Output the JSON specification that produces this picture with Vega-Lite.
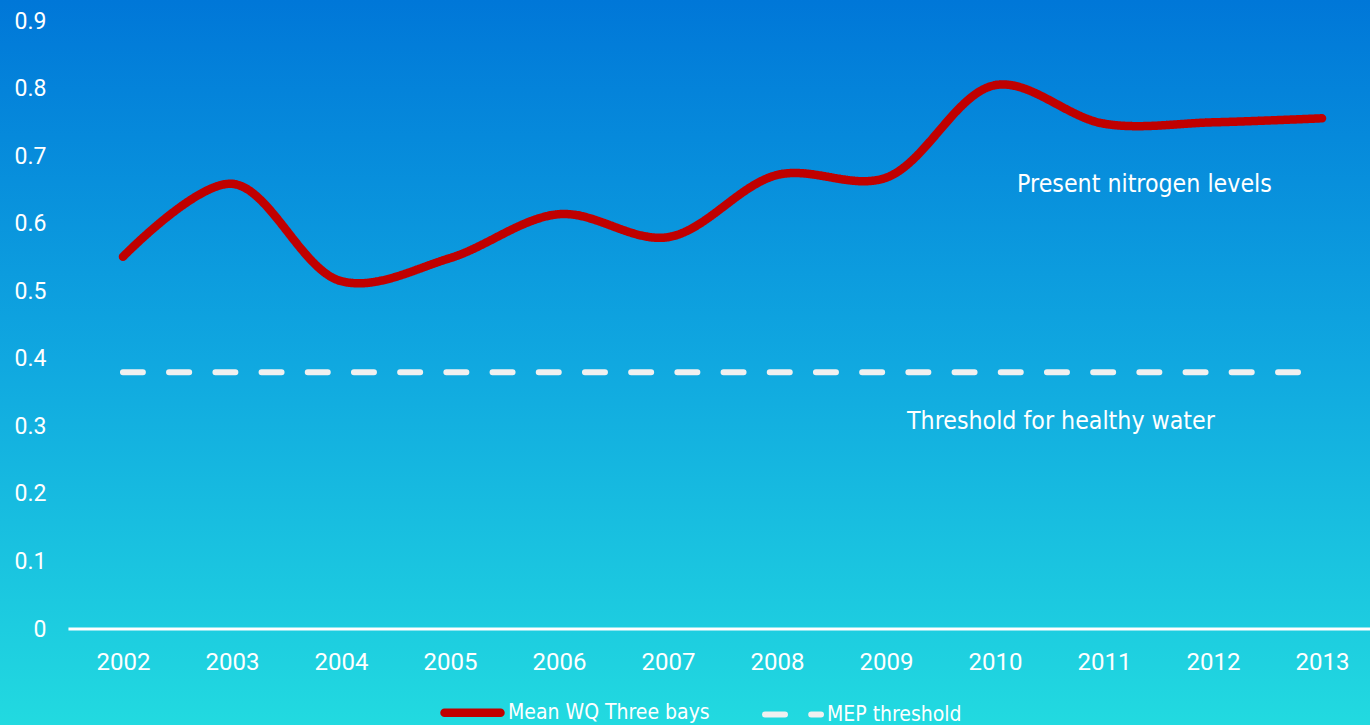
{
  "$schema": "https://vega.github.io/schema/vega-lite/v6.json",
  "width": 1370,
  "height": 725,
  "padding": 0,
  "autosize": {"type": "none"},
  "background": "#22dae0",
  "config": {"view": {"stroke": null}, "font": "Roboto"},
  "layer": [
    {
      "data": {"values": [{"bg": "bg"}]},
      "mark": {
        "type": "rect",
        "color": {
          "gradient": "linear",
          "x1": 0, "y1": 0, "x2": 0, "y2": 1,
          "stops": [
            {"offset": 0, "color": "#0077d8"},
            {"offset": 0.5, "color": "#10a8e0"},
            {"offset": 1, "color": "#22dae0"}
          ]
        }
      }
    },
    {
      "data": {"values": [{"year": 2001.5, "year2": 2013.5, "value": 0}]},
      "mark": {"type": "rule", "color": "#ffffff", "strokeWidth": 3},
      "encoding": {
        "x": {
          "field": "year", "type": "quantitative",
          "scale": {"domain": [2000.872, 2013.44], "nice": false, "zero": false},
          "axis": {
            "orient": "bottom", "offset": -96, "title": null, "zindex": 2,
            "values": [2002, 2003, 2004, 2005, 2006, 2007, 2008, 2009, 2010, 2011, 2012, 2013],
            "format": "d", "domain": false, "ticks": false, "grid": false,
            "labelFont": "Roboto", "labelFontSize": 24, "labelColor": "#ffffff",
            "labelPadding": 21, "labelOverlap": false, "labelFlush": false
          }
        },
        "x2": {"field": "year2"},
        "y": {
          "field": "value", "type": "quantitative",
          "scale": {"domain": [-0.1421, 0.9311], "nice": false, "zero": false},
          "axis": {
            "orient": "left", "offset": -46, "title": null, "zindex": 2,
            "values": [0, 0.1, 0.2, 0.3, 0.4, 0.5, 0.6, 0.7, 0.8, 0.9],
            "format": "~g", "domain": false, "ticks": false, "grid": false,
            "labelFont": "Roboto", "labelFontSize": 23, "labelColor": "#ffffff",
            "labelPadding": 0, "labelOverlap": false, "labelFlush": false
          }
        }
      }
    },
    {
      "data": {"values": [
        {"series": "Mean WQ Three bays", "year": 2002, "value": 0.551},
        {"series": "Mean WQ Three bays", "year": 2003, "value": 0.659},
        {"series": "Mean WQ Three bays", "year": 2004, "value": 0.515},
        {"series": "Mean WQ Three bays", "year": 2005, "value": 0.549},
        {"series": "Mean WQ Three bays", "year": 2006, "value": 0.614},
        {"series": "Mean WQ Three bays", "year": 2007, "value": 0.580},
        {"series": "Mean WQ Three bays", "year": 2008, "value": 0.672},
        {"series": "Mean WQ Three bays", "year": 2009, "value": 0.668},
        {"series": "Mean WQ Three bays", "year": 2010, "value": 0.805},
        {"series": "Mean WQ Three bays", "year": 2011, "value": 0.748},
        {"series": "Mean WQ Three bays", "year": 2012, "value": 0.750},
        {"series": "Mean WQ Three bays", "year": 2013, "value": 0.756},
        {"series": "MEP threshold", "year": 2002, "value": 0.38},
        {"series": "MEP threshold", "year": 2003, "value": 0.38},
        {"series": "MEP threshold", "year": 2004, "value": 0.38},
        {"series": "MEP threshold", "year": 2005, "value": 0.38},
        {"series": "MEP threshold", "year": 2006, "value": 0.38},
        {"series": "MEP threshold", "year": 2007, "value": 0.38},
        {"series": "MEP threshold", "year": 2008, "value": 0.38},
        {"series": "MEP threshold", "year": 2009, "value": 0.38},
        {"series": "MEP threshold", "year": 2010, "value": 0.38},
        {"series": "MEP threshold", "year": 2011, "value": 0.38},
        {"series": "MEP threshold", "year": 2012, "value": 0.38},
        {"series": "MEP threshold", "year": 2013, "value": 0.38}
      ]},
      "mark": {"type": "line", "interpolate": "catmull-rom", "strokeCap": "round", "strokeJoin": "round"},
      "encoding": {
        "x": {
          "field": "year", "type": "quantitative",
          "scale": {"domain": [2000.872, 2013.44], "nice": false, "zero": false},
          "axis": {
            "orient": "bottom", "offset": -96, "title": null, "zindex": 2,
            "values": [2002, 2003, 2004, 2005, 2006, 2007, 2008, 2009, 2010, 2011, 2012, 2013],
            "format": "d", "domain": false, "ticks": false, "grid": false,
            "labelFont": "Roboto", "labelFontSize": 24, "labelColor": "#ffffff",
            "labelPadding": 21, "labelOverlap": false, "labelFlush": false
          }
        },
        "y": {
          "field": "value", "type": "quantitative",
          "scale": {"domain": [-0.1421, 0.9311], "nice": false, "zero": false},
          "axis": {
            "orient": "left", "offset": -46, "title": null, "zindex": 2,
            "values": [0, 0.1, 0.2, 0.3, 0.4, 0.5, 0.6, 0.7, 0.8, 0.9],
            "format": "~g", "domain": false, "ticks": false, "grid": false,
            "labelFont": "Roboto", "labelFontSize": 23, "labelColor": "#ffffff",
            "labelPadding": 0, "labelOverlap": false, "labelFlush": false
          }
        },
        "color": {
          "field": "series", "type": "ordinal",
          "scale": {"domain": ["Mean WQ Three bays", "MEP threshold"], "range": ["#c00000", "#f0f0f0"]},
          "legend": {
            "orient": "none", "legendX": 440, "legendY": 680, "direction": "horizontal",
            "title": null, "symbolType": "stroke", "symbolSize": 3136,
            "labelFont": "DejaVu Sans Condensed, Liberation Sans Narrow, Roboto Condensed, Roboto", "labelFontSize": 21, "labelColor": "#ffffff",
            "labelOffset": 3, "labelLimit": 400, "columnPadding": 43, "padding": 0,
            "encode": {"symbols": {"update": {"strokeCap": {"value": "round"}}}}
          }
        },
        "strokeDash": {
          "field": "series", "type": "ordinal",
          "scale": {"domain": ["Mean WQ Three bays", "MEP threshold"], "range": [[1, 0], [20, 26.2]]}
        },
        "strokeWidth": {
          "field": "series", "type": "ordinal",
          "scale": {"domain": ["Mean WQ Three bays", "MEP threshold"], "range": [8.5, 6]}
        }
      }
    },
    {
      "data": {"values": [
        {"year": 2011.371, "value": 0.647, "label": "Present nitrogen levels"},
        {"year": 2010.605, "value": 0.296, "label": "Threshold for healthy water"}
      ]},
      "mark": {"type": "text", "font": "DejaVu Sans Condensed, Liberation Sans Narrow, Roboto Condensed, Roboto", "fontSize": 24.7, "color": "#ffffff", "align": "center", "baseline": "alphabetic"},
      "encoding": {
        "x": {
          "field": "year", "type": "quantitative",
          "scale": {"domain": [2000.872, 2013.44], "nice": false, "zero": false},
          "axis": {
            "orient": "bottom", "offset": -96, "title": null, "zindex": 2,
            "values": [2002, 2003, 2004, 2005, 2006, 2007, 2008, 2009, 2010, 2011, 2012, 2013],
            "format": "d", "domain": false, "ticks": false, "grid": false,
            "labelFont": "Roboto", "labelFontSize": 24, "labelColor": "#ffffff",
            "labelPadding": 21, "labelOverlap": false, "labelFlush": false
          }
        },
        "y": {
          "field": "value", "type": "quantitative",
          "scale": {"domain": [-0.1421, 0.9311], "nice": false, "zero": false},
          "axis": {
            "orient": "left", "offset": -46, "title": null, "zindex": 2,
            "values": [0, 0.1, 0.2, 0.3, 0.4, 0.5, 0.6, 0.7, 0.8, 0.9],
            "format": "~g", "domain": false, "ticks": false, "grid": false,
            "labelFont": "Roboto", "labelFontSize": 23, "labelColor": "#ffffff",
            "labelPadding": 0, "labelOverlap": false, "labelFlush": false
          }
        },
        "text": {"field": "label"}
      }
    }
  ]
}
